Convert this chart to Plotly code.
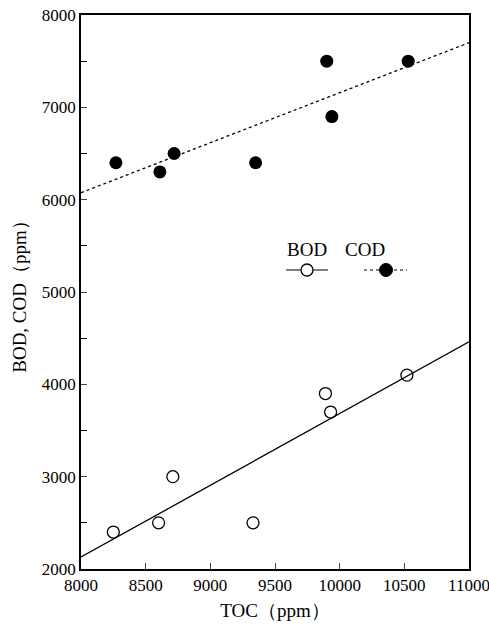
import plotly.graph_objects as go

# Data
bod_x = [8250, 8600, 8710, 9330, 9890, 9930, 10520]
bod_y = [2400, 2500, 3000, 2500, 3900, 3700, 4100]
cod_x = [8270, 8610, 8720, 9350, 9900, 9940, 10530]
cod_y = [6400, 6300, 6500, 6400, 7500, 6900, 7500]
fit_x = [8000, 11000]
bod_fit = [2130, 4460]
cod_fit = [6075, 7700]

x_ticks = [8000, 8500, 9000, 9500, 10000, 10500, 11000]
x_labels = ["8000", "8500", "9000", "9500", "10000", "10500", "11000"]
y_ticks = [2000, 3000, 4000, 5000, 6000, 7000, 8000]
y_labels = ["2000", "3000", "4000", "5000", "6000", "7000", "8000"]

FONT = "Liberation Serif"

fig = go.Figure()
fig.add_trace(go.Scatter(x=fit_x, y=cod_fit, mode="lines",
                         line=dict(color="black", width=1.3, dash="3px,3px"),
                         showlegend=False, hoverinfo="skip"))
fig.add_trace(go.Scatter(x=fit_x, y=bod_fit, mode="lines",
                         line=dict(color="black", width=1.3),
                         showlegend=False, hoverinfo="skip"))
fig.add_trace(go.Scatter(x=cod_x, y=cod_y, mode="markers", name="COD",
                         marker=dict(symbol="circle", size=13, color="black"),
                         showlegend=False))
fig.add_trace(go.Scatter(x=bod_x, y=bod_y, mode="markers", name="BOD",
                         marker=dict(symbol="circle-open", size=12, color="black",
                                     line=dict(width=1.3, color="black")),
                         showlegend=False))

L, R, T, B = 81, 20, 15, 59
W, H = 489, 628
pw, ph = W - L - R, H - T - B


def px(x):
    return (x - L) / pw


def py(y):
    return (H - B - y) / ph


# Custom legend
shapes = [
    dict(type="line", xref="paper", yref="paper", x0=px(286), x1=px(328),
         y0=py(270), y1=py(270), line=dict(color="black", width=1.2)),
    dict(type="line", xref="paper", yref="paper", x0=px(364), x1=px(407),
         y0=py(270), y1=py(270), line=dict(color="black", width=1.2, dash="3px,3px")),
    dict(type="circle", xref="paper", yref="paper", xsizemode="pixel", ysizemode="pixel",
         xanchor=px(307), yanchor=py(270), x0=-6, x1=6, y0=-6, y1=6,
         fillcolor="white", line=dict(color="black", width=1.3)),
    dict(type="circle", xref="paper", yref="paper", xsizemode="pixel", ysizemode="pixel",
         xanchor=px(386), yanchor=py(270), x0=-6.5, x1=6.5, y0=-6.5, y1=6.5,
         fillcolor="black", line=dict(color="black", width=1)),
]
annotations = [
    dict(text="BOD", xref="paper", yref="paper", x=px(307), y=py(249),
         showarrow=False, font=dict(family=FONT, size=19, color="black")),
    dict(text="COD", xref="paper", yref="paper", x=px(387), y=py(249),
         showarrow=False, font=dict(family=FONT, size=19, color="black")),
]

fig.update_layout(
    width=W, height=H,
    margin=dict(l=L, r=R, t=T, b=B, autoexpand=False),
    paper_bgcolor="white", plot_bgcolor="white",
    font=dict(family=FONT, size=17, color="black"),
    shapes=shapes, annotations=annotations,
    xaxis=dict(range=[8000, 11000], tickvals=x_ticks, ticktext=x_labels,
               ticks="inside", ticklen=6, ticklabeloverflow="allow", automargin=False,
               tickwidth=1.2, showline=True, linewidth=1.5, linecolor="black",
               mirror=True, showgrid=False, zeroline=False,
               title=dict(text="TOC（ppm）", font=dict(size=19), standoff=10),
               tickfont=dict(size=17)),
    yaxis=dict(range=[2000, 8000], tickvals=y_ticks, ticktext=y_labels,
               ticks="inside", ticklen=6, ticklabeloverflow="allow", automargin=False,
               tickwidth=1.2, showline=True, linewidth=1.5, linecolor="black",
               mirror=True, showgrid=False, zeroline=False,
               minor=dict(dtick=500, ticks="inside", ticklen=6, tickwidth=1.2,
                          showgrid=False, tickcolor="black"),
               title=dict(text="BOD, COD（ppm）", font=dict(size=19), standoff=10),
               tickfont=dict(size=17)),
)

fig.write_html("out.html")
